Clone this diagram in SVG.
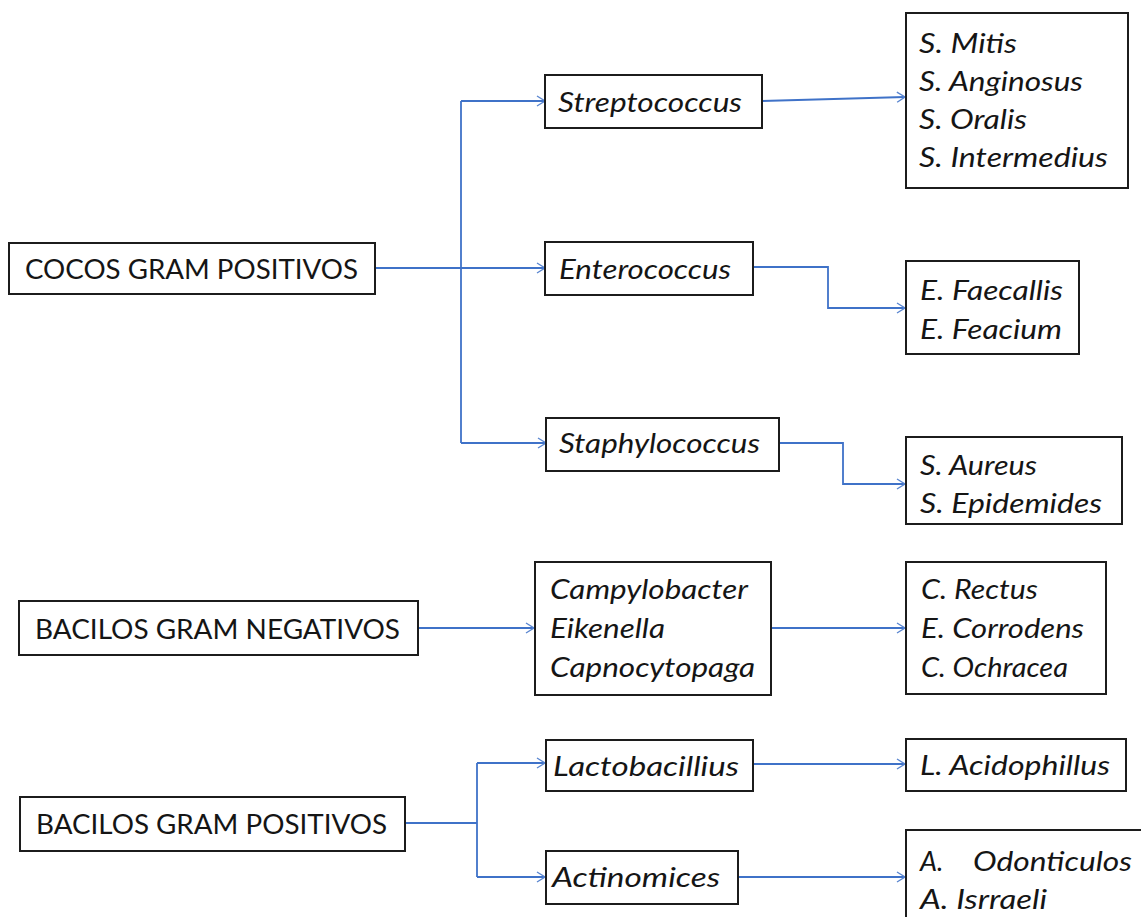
<svg xmlns="http://www.w3.org/2000/svg" width="1141" height="917" viewBox="0 0 1141 917">
<defs>
<style>
.box{fill:#fff;stroke:#1c1c1c;stroke-width:2}
.t{font-family:Lato,"Open Sans","Liberation Sans",sans-serif;font-size:26px;fill:#151515}
.i{font-family:Lato,"Open Sans","Liberation Sans",sans-serif;font-size:27px;font-style:italic;fill:#151515}
.c{fill:none;stroke:#3f72c8;stroke-width:1.8}
</style>
<marker id="ah" markerUnits="userSpaceOnUse" markerWidth="12" markerHeight="14" refX="9" refY="6" orient="auto">
<path d="M1,1 L9,6 L1,11" fill="none" stroke="#5a86d0" stroke-width="1.4"/>
</marker>
</defs>
<rect width="1141" height="917" fill="#fff"/>

<g id="connectors">
<path class="c" d="M376,268 H545" marker-end="url(#ah)"/>
<path class="c" d="M461,101 V443"/>
<path class="c" d="M461,101 H545" marker-end="url(#ah)"/>
<path class="c" d="M461,443 H546" marker-end="url(#ah)"/>
<path class="c" d="M762,101 L905,97" marker-end="url(#ah)"/>
<path class="c" d="M753,267 H828 V308 H905" marker-end="url(#ah)"/>
<path class="c" d="M779,443 H843 V484 H905" marker-end="url(#ah)"/>
<path class="c" d="M418,628 H534" marker-end="url(#ah)"/>
<path class="c" d="M771,628 H905" marker-end="url(#ah)"/>
<path class="c" d="M405,823 H477"/>
<path class="c" d="M477,763 V877"/>
<path class="c" d="M477,763 H545" marker-end="url(#ah)"/>
<path class="c" d="M477,877 H545" marker-end="url(#ah)"/>
<path class="c" d="M753,764 H905" marker-end="url(#ah)"/>
<path class="c" d="M738,877 H905" marker-end="url(#ah)"/>
</g>

<g id="cocos">
<rect class="box" x="9" y="243" width="366" height="51"/>
<text class="t" x="25" y="279" textLength="333" lengthAdjust="spacingAndGlyphs">COCOS GRAM POSITIVOS</text>
</g>
<g id="streptococcus">
<rect class="box" x="545" y="75" width="217" height="53"/>
<text class="i" x="558" y="112" textLength="184" lengthAdjust="spacingAndGlyphs">Streptococcus</text>
</g>
<g id="enterococcus">
<rect class="box" x="545" y="242" width="208" height="53"/>
<text class="i" x="559" y="279" textLength="172" lengthAdjust="spacingAndGlyphs">Enterococcus</text>
</g>
<g id="staphylococcus">
<rect class="box" x="546" y="418" width="233" height="53"/>
<text class="i" x="559" y="453" textLength="201" lengthAdjust="spacingAndGlyphs">Staphylococcus</text>
</g>
<g id="strep-species">
<rect class="box" x="906" y="13" width="222" height="175"/>
<text class="i" x="919" y="53" textLength="98" lengthAdjust="spacingAndGlyphs">S. Mitis</text>
<text class="i" x="919" y="91" textLength="164" lengthAdjust="spacingAndGlyphs">S. Anginosus</text>
<text class="i" x="919" y="129" textLength="108" lengthAdjust="spacingAndGlyphs">S. Oralis</text>
<text class="i" x="919" y="167" textLength="189" lengthAdjust="spacingAndGlyphs">S. Intermedius</text>
</g>
<g id="entero-species">
<rect class="box" x="906" y="261" width="173" height="93"/>
<text class="i" x="920" y="300" textLength="143" lengthAdjust="spacingAndGlyphs">E. Faecallis</text>
<text class="i" x="920" y="339" textLength="142" lengthAdjust="spacingAndGlyphs">E. Feacium</text>
</g>
<g id="staph-species">
<rect class="box" x="906" y="437" width="216" height="87"/>
<text class="i" x="920" y="475" textLength="117" lengthAdjust="spacingAndGlyphs">S. Aureus</text>
<text class="i" x="920" y="513" textLength="182" lengthAdjust="spacingAndGlyphs">S. Epidemides</text>
</g>

<g id="bacilos-neg">
<rect class="box" x="19" y="601" width="399" height="54"/>
<text class="t" x="35" y="639" textLength="365" lengthAdjust="spacingAndGlyphs">BACILOS GRAM NEGATIVOS</text>
</g>
<g id="campylobacter">
<rect class="box" x="535" y="562" width="236" height="133"/>
<text class="i" x="550" y="599" textLength="198" lengthAdjust="spacingAndGlyphs">Campylobacter</text>
<text class="i" x="550" y="638" textLength="115" lengthAdjust="spacingAndGlyphs">Eikenella</text>
<text class="i" x="550" y="677" textLength="205" lengthAdjust="spacingAndGlyphs">Capnocytopaga</text>
</g>
<g id="neg-species">
<rect class="box" x="906" y="562" width="200" height="132"/>
<text class="i" x="921" y="599" textLength="117" lengthAdjust="spacingAndGlyphs">C. Rectus</text>
<text class="i" x="921" y="638" textLength="163" lengthAdjust="spacingAndGlyphs">E. Corrodens</text>
<text class="i" x="921" y="677" textLength="147" lengthAdjust="spacingAndGlyphs">C. Ochracea</text>
</g>

<g id="bacilos-pos">
<rect class="box" x="20" y="797" width="385" height="54"/>
<text class="t" x="36" y="834" textLength="351" lengthAdjust="spacingAndGlyphs">BACILOS GRAM POSITIVOS</text>
</g>
<g id="lactobacillius">
<rect class="box" x="546" y="740" width="207" height="51"/>
<text class="i" x="553" y="776" textLength="186" lengthAdjust="spacingAndGlyphs">Lactobacillius</text>
</g>
<g id="actinomices">
<rect class="box" x="546" y="851" width="192" height="53"/>
<text class="i" x="552" y="887" textLength="168" lengthAdjust="spacingAndGlyphs">Actinomices</text>
</g>
<g id="lacto-species">
<rect class="box" x="906" y="739" width="220" height="52"/>
<text class="i" x="920" y="775" textLength="190" lengthAdjust="spacingAndGlyphs">L. Acidophillus</text>
</g>
<g id="actino-species">
<rect class="box" x="906" y="830" width="250" height="100"/>
<text class="i" y="871"><tspan x="920">A.</tspan><tspan x="973" textLength="159" lengthAdjust="spacingAndGlyphs">Odonticulos</tspan></text>
<text class="i" x="920" y="909" textLength="127" lengthAdjust="spacingAndGlyphs">A. Isrraeli</text>
</g>
</svg>
